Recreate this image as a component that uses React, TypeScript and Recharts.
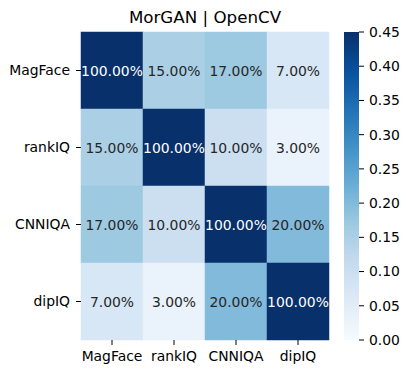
import React from "react";
import { BarChart, Bar, XAxis, YAxis } from "recharts";

const rowLabels = ["MagFace", "rankIQ", "CNNIQA", "dipIQ"];
const colLabels = ["MagFace", "rankIQ", "CNNIQA", "dipIQ"];
const matrix = [
  [1.0, 0.15, 0.17, 0.07],
  [0.15, 1.0, 0.1, 0.03],
  [0.17, 0.1, 1.0, 0.2],
  [0.07, 0.03, 0.2, 1.0],
];
const vmax = 0.45;
const cbarTicks = [0, 0.05, 0.1, 0.15, 0.2, 0.25, 0.3, 0.35, 0.4, 0.45];

const font = "'DejaVu Sans', sans-serif";

// matplotlib Blues anchors
const blues = ["#f7fbff", "#deebf7", "#c6dbef", "#9ecae1", "#6baed6", "#4292c6", "#2171b5", "#08519c", "#08306b"];

function hexRgb(h: string) {
  return [1, 3, 5].map((i) => parseInt(h.slice(i, i + 2), 16));
}

function bluesAt(t: number) {
  t = Math.max(0, Math.min(1, t));
  const p = t * (blues.length - 1);
  const i = Math.min(Math.floor(p), blues.length - 2);
  const f = p - i;
  const a = hexRgb(blues[i]);
  const b = hexRgb(blues[i + 1]);
  const c = a.map((v, k) => Math.round(v + (b[k] - v) * f));
  return { css: `rgb(${c[0]},${c[1]},${c[2]})`, rgb: c };
}

function lum(rgb: number[]) {
  const l = rgb.map((v) => {
    const s = v / 255;
    return s <= 0.03928 ? s / 12.92 : Math.pow((s + 0.055) / 1.055, 2.4);
  });
  return 0.2126 * l[0] + 0.7152 * l[1] + 0.0722 * l[2];
}

const tableData = rowLabels.map((r, i) => {
  const o: any = { row: r };
  colLabels.forEach((_, j) => {
    o[`c${j}`] = 1;
    o[`v${j}`] = matrix[i][j];
  });
  return o;
});

const makeShape = (j: number) => (props: any) => {
  const { x, y, width, height, payload } = props;
  const v = payload[`v${j}`];
  const col = bluesAt(v / vmax);
  const textColor = lum(col.rgb) > 0.408 ? "#262626" : "#ffffff";
  return (
    <g>
      <rect x={x} y={y} width={width} height={height} fill={col.css} stroke={col.css} strokeWidth={0.5} />
      <text
        x={x + width / 2}
        y={y + height / 2}
        textAnchor="middle"
        dominantBaseline="central"
        fontSize={13.9}
        fontFamily={font}
        fill={textColor}
      >
        {(v * 100).toFixed(2) + "%"}
      </text>
    </g>
  );
};

const gradStops = blues.map((c, i) => ({ off: 1 - i / (blues.length - 1), c }));

export default function App() {
  return (
    <div style={{ position: "absolute", left: 0, top: 0, width: 410, height: 374, background: "#fff" }}>
      <div
        style={{
          position: "absolute",
          left: 81,
          width: 248,
          top: 7,
          textAlign: "center",
          fontFamily: font,
          fontSize: 16.7,
          color: "#000",
        }}
      >
        MorGAN | OpenCV
      </div>
      <div style={{ position: "absolute", left: 0, top: 0 }}>
        <BarChart
          width={410}
          height={374}
          data={tableData}
          layout="vertical"
          barCategoryGap={0}
          margin={{ top: 32, left: 8, right: 81, bottom: 4 }}
        >
          <XAxis
            type="number"
            domain={[0, 4]}
            ticks={[0.5, 1.5, 2.5, 3.5]}
            tickFormatter={(v: number) => colLabels[Math.floor(v)]}
            axisLine={false}
            tickSize={5}
            tickMargin={6}
            height={30}
            tick={{ fontSize: 13.9, fontFamily: font, fill: "#000" }}
            tickLine={{ stroke: "#000" }}
            interval={0}
          />
          <YAxis
            type="category"
            dataKey="row"
            width={73}
            axisLine={false}
            tickSize={5}
            tickMargin={6}
            tick={{ fontSize: 13.9, fontFamily: font, fill: "#000" }}
            tickLine={{ stroke: "#000" }}
            interval={0}
          />
          {colLabels.map((_, j) => (
            <Bar key={j} dataKey={`c${j}`} stackId="a" isAnimationActive={false} shape={makeShape(j)} />
          ))}
        </BarChart>
      </div>
      <div style={{ position: "absolute", left: 0, top: 0 }}>
        <BarChart
          width={410}
          height={374}
          data={[{ name: "cbar", v: vmax }]}
          barCategoryGap={0}
          margin={{ top: 32, left: 344, right: 1, bottom: 34 }}
        >
          <defs>
            <linearGradient id="cbarGrad" x1="0" y1="0" x2="0" y2="1">
              {gradStops.map((s, i) => (
                <stop key={i} offset={s.off} stopColor={s.c} />
              )).reverse()}
            </linearGradient>
          </defs>
          <XAxis dataKey="name" hide />
          <YAxis
            orientation="right"
            type="number"
            domain={[0, vmax]}
            ticks={cbarTicks}
            tickFormatter={(v: number) => v.toFixed(2)}
            axisLine={false}
            width={50}
            tickSize={5}
            tickMargin={5}
            tick={{ fontSize: 13.9, fontFamily: font, fill: "#000" }}
            tickLine={{ stroke: "#000" }}
            interval={0}
          />
          <Bar dataKey="v" fill="url(#cbarGrad)" isAnimationActive={false} />
        </BarChart>
      </div>
    </div>
  );
}
